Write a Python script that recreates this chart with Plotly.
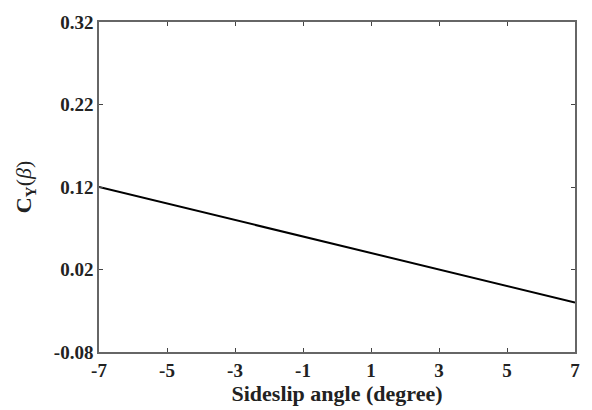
import plotly.graph_objects as go

beta = [-7, -6, -5, -4, -3, -2, -1, 0, 1, 2, 3, 4, 5, 6, 7]
cy = [0.12, 0.11, 0.10, 0.09, 0.08, 0.07, 0.06, 0.05, 0.04, 0.03, 0.02, 0.01, 0.0, -0.01, -0.02]
xticks = [-7, -5, -3, -1, 1, 3, 5, 7]
yticks = [-0.08, 0.02, 0.12, 0.22, 0.32]

font = "Liberation Serif"
fig = go.Figure()
fig.add_trace(go.Scatter(x=beta, y=cy, mode="lines",
                         line=dict(color="black", width=2), showlegend=False))
axcommon = dict(showgrid=False, zeroline=False, showline=True, linecolor="#666666",
                linewidth=1.5, mirror="allticks", ticks="inside", ticklen=4,
                tickcolor="#444444", tickfont=dict(family=font, size=19, color="#222222"))
fig.update_xaxes(range=[-7, 7], tickvals=xticks, ticktext=["<b>%d</b>" % v for v in xticks],
                 title=dict(text="<b>Sideslip angle (degree)</b>",
                            font=dict(family=font, size=22, color="#222222"), standoff=2),
                 **axcommon)
fig.update_yaxes(range=[-0.08, 0.32], tickvals=yticks, ticktext=["<b>%.2f</b>" % v for v in yticks],
                 title=dict(text="<b>C<sub>Y</sub></b>(<i>β</i>)",
                            font=dict(family=font, size=22, color="#222222"), standoff=16),
                 **axcommon)
fig.update_layout(width=592, height=410, margin=dict(l=99, r=12, t=15, b=58),
                  plot_bgcolor="white", paper_bgcolor="white")
fig.write_html("out.html")
